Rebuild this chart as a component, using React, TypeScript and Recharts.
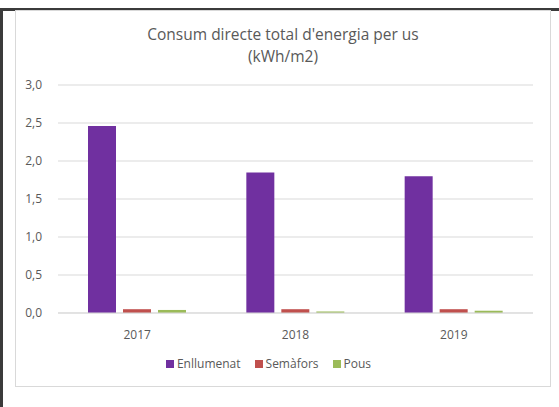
import { BarChart, Bar, XAxis, YAxis, CartesianGrid, Legend } from 'recharts';

const years = ['2017', '2018', '2019'];
const enllumenat = [2.46, 1.85, 1.8];
const semafors = [0.05, 0.05, 0.05];
const pous = [0.04, 0.02, 0.03];
const yTicks = [0, 0.5, 1, 1.5, 2, 2.5, 3];

const series = [
    { key: 'Enllumenat', color: '#7030A0' },
    { key: 'Semàfors', color: '#C0504D' },
    { key: 'Pous', color: '#9BBB59' },
];

const data = years.map((year, i) => ({
    year,
    Enllumenat: enllumenat[i],
    'Semàfors': semafors[i],
    Pous: pous[i],
}));

const FONT = '"Open Sans", "Noto Sans", sans-serif';
const TEXT = '#595959';

const fmt = (v: number) => v.toFixed(1).replace('.', ',');

function LegendContent() {
    return (
        <div style={{ display: 'flex', justifyContent: 'center', gap: 14, paddingRight: 12, fontSize: 12, fontFamily: FONT, color: TEXT, lineHeight: '20px' }}>
            {series.map((s) => (
                <span key={s.key} style={{ display: 'inline-flex', alignItems: 'center' }}>
                    <span style={{ width: 8, height: 8, background: s.color, marginRight: 3, display: 'inline-block' }} />
                    {s.key}
                </span>
            ))}
        </div>
    );
}

export default function App() {
    return (
        <div style={{ position: 'absolute', left: 0, top: 0, width: 559, height: 407, background: '#fff', fontFamily: FONT, overflow: 'hidden' }}>
            <div style={{ position: 'absolute', left: 0, top: 8, width: 559, height: 3, background: '#3b3b3b' }} />
            <div style={{ position: 'absolute', left: 0, top: 8, width: 3, height: 399, background: '#3b3b3b' }} />
            <div style={{ position: 'absolute', left: 15, top: 10, width: 534, height: 375, border: '1px solid #d9d9d9' }}>
                <div style={{ position: 'absolute', left: 0, top: 12, width: '100%', textAlign: 'center', color: TEXT, fontSize: 15.5, lineHeight: '22px' }}>
                    Consum directe total d'energia per us
                    <br />
                    (kWh/m2)
                </div>
                <BarChart
                    width={534}
                    height={375}
                    data={data}
                    margin={{ top: 74, right: 17, left: 0, bottom: 12 }}
                    barGap={7}
                    barCategoryGap={30}
                >
                    <CartesianGrid vertical={false} stroke="#d9d9d9" />
                    <XAxis
                        dataKey="year"
                        axisLine={{ stroke: '#d9d9d9' }}
                        tickLine={false}
                        tick={{ fontSize: 12, fill: TEXT, fontFamily: FONT }}
                        tickMargin={11}
                        height={41}
                    />
                    <YAxis
                        domain={[0, 3]}
                        ticks={yTicks}
                        tickFormatter={fmt}
                        axisLine={false}
                        tickLine={false}
                        tick={{ fontSize: 12, fill: TEXT, fontFamily: FONT }}
                        tickMargin={10}
                        width={42}
                    />
                    <Legend verticalAlign="bottom" content={<LegendContent />} />
                    {series.map((s) => (
                        <Bar key={s.key} dataKey={s.key} fill={s.color} isAnimationActive={false} />
                    ))}
                </BarChart>
            </div>
        </div>
    );
}
